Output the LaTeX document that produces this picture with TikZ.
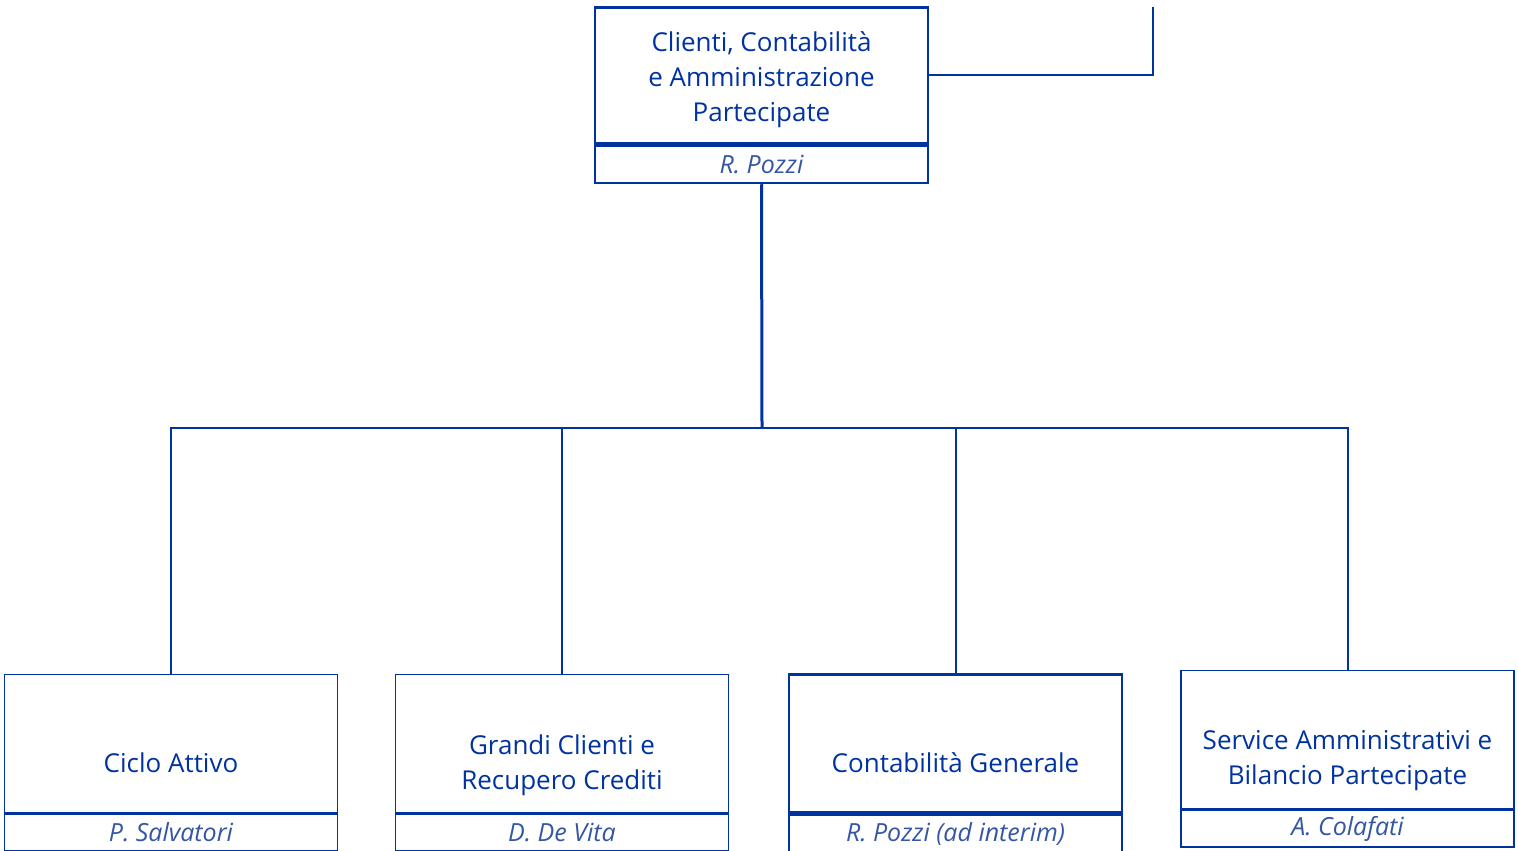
\documentclass[tikz,border=0pt]{standalone}
\usepackage{fontspec}
\setmainfont{Open Sans}
\usetikzlibrary{positioning}
\definecolor{orgblue}{RGB}{0,51,160}
\definecolor{nameblue}{RGB}{52,86,165}
\begin{document}
\begin{tikzpicture}[
	x=0.5pt, y=-0.5pt,
	unit/.style={
		rectangle,
		draw=orgblue,
		line width=0.75pt,
		minimum width=166.5pt,
		minimum height=69pt,
		inner sep=0pt
	},
	unitbold/.style={unit, line width=1.25pt},
	unittext/.style={align=center, text=orgblue, font=\fontsize{13}{17.5}\selectfont},
	person/.style={
		rectangle,
		draw=orgblue,
		line width=0.75pt,
		minimum width=166.5pt,
		minimum height=18.5pt,
		inner sep=0pt,
		text=nameblue,
		font=\itshape\fontsize{12.5}{15}\selectfont
	},
	personbold/.style={person, line width=1.25pt},
	link/.style={draw=orgblue, line width=1pt}
]
\useasboundingbox (0,0) rectangle (1518,850);

% Direzione
\node[unitbold, minimum height=68pt] (cca) at (761.5,75.5) {};
\node[unittext] (cca-txt) at (761.5,80) {Clienti, Contabilità\\e Amministrazione\\Partecipate};
\node[personbold, below=0pt of cca] (cca-resp) {R. Pozzi};

% Uffici
\node[unit] (ciclo) at (171,743.5) {};
\node[unittext] (ciclo-txt) at (171,763) {Ciclo Attivo};
\node[person, below=0pt of ciclo] (ciclo-resp) {P. Salvatori};

\node[unit] (grandi) at (562,743.5) {};
\node[unittext] (grandi-txt) at (562,765) {Grandi Clienti e\\Recupero Crediti};
\node[person, below=0pt of grandi] (grandi-resp) {D. De Vita};

\node[unitbold] (contab) at (955.5,743.5) {};
\node[unittext] (contab-txt) at (955.5,763) {Contabilità Generale};
\node[personbold, below=0pt of contab] (contab-resp) {R. Pozzi (ad interim)};

\node[unit] (service) at (1347.5,739.5) {};
\node[unittext] (service-txt) at (1347.5,761) {Service Amministrativi e\\Bilancio Partecipate};
\node[person, below=0pt of service] (service-resp) {A. Colafati};

% Collegamenti
\coordinate (up) at (1153,7);
\coordinate (bus) at (762,428);
\draw[link] (cca.east) -| (up);
\draw[link, line width=1.5pt] (cca-resp.south) -- (bus);
\draw[link] (ciclo.north) |- (bus);
\draw[link] (grandi.north) |- (bus);
\draw[link] (contab.north) |- (bus);
\draw[link] (service.north) |- (bus);

\end{tikzpicture}
\end{document}
